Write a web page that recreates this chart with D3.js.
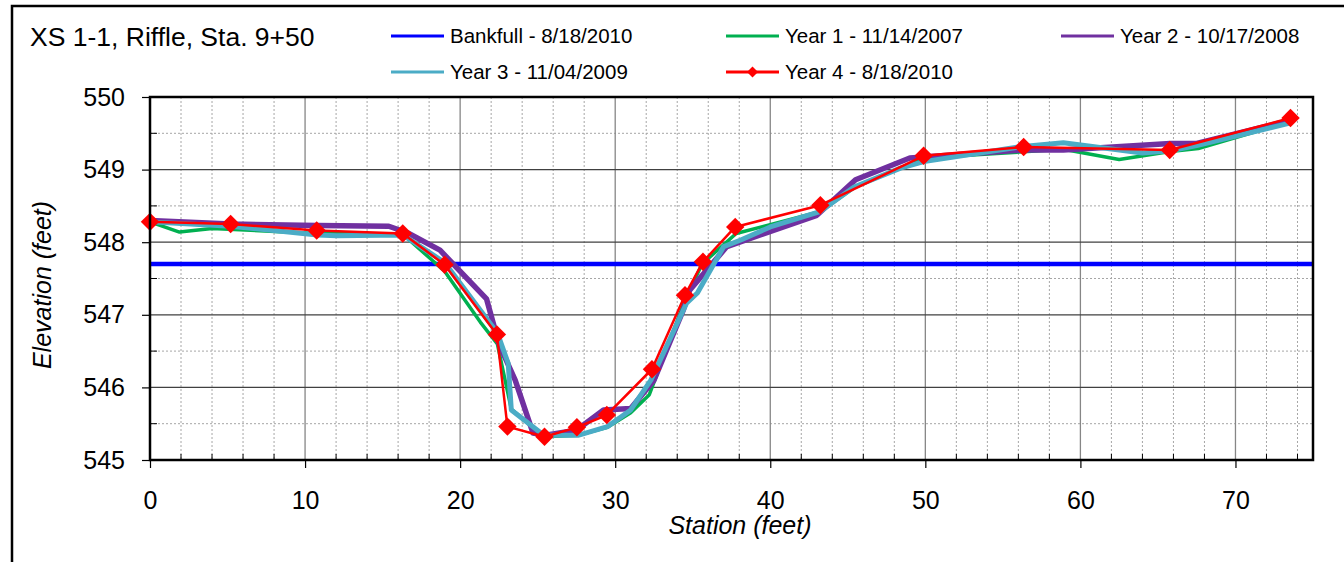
<!DOCTYPE html>
<html>
<meta charset="utf-8">
<head>
    <script src="https://d3js.org/d3.v7.min.js"></script>
    <style>
        body { margin: 0; background: #fff; }
        text { font-family: "Liberation Sans", Arial, sans-serif; fill: #000; }
    </style>
</head>
<body>
    <script>
        // tick labels
        var xTicks = [0, 10, 20, 30, 40, 50, 60, 70];
        var yTicks = [545, 546, 547, 548, 549, 550];

        // series names + colours (legend order)
        var seriesNames = ["Bankfull - 8/18/2010", "Year 1 - 11/14/2007", "Year 2 - 10/17/2008",
                           "Year 3 - 11/04/2009", "Year 4 - 8/18/2010"];
        var seriesColors = ["#0000ff", "#00b050", "#7030a0", "#4bacc6", "#ff0000"];

        // bankfull elevation
        var bankfullSta = [0, 75];
        var bankfullElev = [547.70, 547.70];

        // Year 1 - 11/14/2007
        var year1Sta  = [0, 1.9, 4.0, 10.8, 16.3, 19.0, 21.3, 22.4, 23.3, 25.4, 27.6, 29.5, 31.0, 32.2,
                         34.5, 35.6, 37.8, 43.2, 45.4, 49.9, 54.6, 58.9, 62.5, 65.8, 67.6, 73.5];
        var year1Elev = [548.28, 548.14, 548.19, 548.12, 548.11, 547.60, 546.90, 546.60, 545.70, 545.32,
                         545.34, 545.45, 545.65, 545.90, 547.20, 547.70, 548.12, 548.42, 548.75, 549.16,
                         549.22, 549.28, 549.14, 549.25, 549.29, 549.66];

        // Year 2 - 10/17/2008
        var year2Sta  = [0, 5.2, 10.8, 15.4, 16.6, 18.7, 21.7, 22.5, 23.55, 24.7, 25.5, 27.5, 29.25, 31.0,
                         32.5, 34.4, 34.8, 37.2, 43.0, 45.5, 49.0, 56.3, 58.9, 65.8, 67.5, 73.55];
        var year2Elev = [548.30, 548.25, 548.23, 548.22, 548.13, 547.89, 547.22, 546.60, 546.10, 545.37,
                         545.34, 545.41, 545.69, 545.71, 546.10, 547.07, 547.34, 547.94, 548.37, 548.86,
                         549.16, 549.27, 549.27, 549.36, 549.36, 549.68];

        // Year 3 - 11/04/2009
        var year3Sta  = [0, 5.2, 10.8, 12.05, 16.3, 19.0, 22.4, 23.1, 23.3, 25.4, 27.6, 29.5, 31.0, 32.3,
                         34.6, 35.3, 37.0, 38.1, 40.0, 43.2, 45.4, 48.4, 49.9, 56.3, 58.9, 64.0, 65.8,
                         67.5, 73.5];
        var year3Elev = [548.28, 548.22, 548.10, 548.09, 548.10, 547.72, 546.75, 546.33, 545.69, 545.34,
                         545.34, 545.46, 545.69, 546.10, 547.16, 547.30, 547.94, 548.03, 548.21, 548.42,
                         548.76, 549.02, 549.11, 549.32, 549.37, 549.23, 549.26, 549.33, 549.64];

        // Year 4 - 8/18/2010 (surveyed points, diamonds)
        var year4Sta  = [0, 5.2, 10.75, 16.3, 19.0, 22.37, 23.05, 25.44, 27.53, 29.46, 32.37, 34.5,
                         35.66, 37.74, 43.23, 49.89, 56.34, 65.76, 73.55];
        var year4Elev = [548.28, 548.25, 548.16, 548.12, 547.69, 546.73, 545.46, 545.32, 545.45, 545.62,
                         546.25, 547.27, 547.73, 548.21, 548.51, 549.19, 549.31, 549.27, 549.71];

        var width = 1344,
            height = 562;

        var svg = d3.select("body").append("svg")
            .attr("width", width)
            .attr("height", height);

        var x = d3.scaleLinear().domain([0, 75]).range([150, 1313]);
        var y = d3.scaleLinear().domain([545, 550]).range([460, 97]);

        // outer chart frame
        svg.append("rect")
            .attr("x", 12).attr("y", 6)
            .attr("width", 1400).attr("height", 600)
            .attr("fill", "#fff")
            .attr("stroke", "#000")
            .attr("stroke-width", 2.5);

        // title
        svg.append("text")
            .attr("x", 30).attr("y", 46)
            .style("font-size", "26.5px")
            .text("XS 1-1, Riffle, Sta. 9+50");

        var grid = svg.append("g");

        // minor grid (dotted)
        var minorX = d3.range(2, 76, 2).filter(function(d) { return d % 10 !== 0; });
        var minorY = d3.range(545.5, 550, 1);

        grid.selectAll(".mx").data(minorX).enter().append("line")
            .attr("x1", function(d) { return x(d); }).attr("x2", function(d) { return x(d); })
            .attr("y1", y(550)).attr("y2", y(545))
            .attr("stroke", "#a6a6a6").attr("stroke-width", 1)
            .attr("stroke-dasharray", "2,2");

        grid.selectAll(".my").data(minorY).enter().append("line")
            .attr("x1", x(0)).attr("x2", x(75))
            .attr("y1", function(d) { return y(d); }).attr("y2", function(d) { return y(d); })
            .attr("stroke", "#a6a6a6").attr("stroke-width", 1)
            .attr("stroke-dasharray", "2,2");

        // major grid
        grid.selectAll(".gx").data(xTicks.slice(1)).enter().append("line")
            .attr("x1", function(d) { return x(d); }).attr("x2", function(d) { return x(d); })
            .attr("y1", y(550)).attr("y2", y(545))
            .attr("stroke", "#868686").attr("stroke-width", 1.3);

        grid.selectAll(".gy").data(yTicks.slice(1, -1)).enter().append("line")
            .attr("x1", x(0)).attr("x2", x(75))
            .attr("y1", function(d) { return y(d); }).attr("y2", function(d) { return y(d); })
            .attr("stroke", "#404040").attr("stroke-width", 1.3);

        // minor ticks inside the axes
        grid.selectAll(".tx").data(minorX).enter().append("line")
            .attr("x1", function(d) { return x(d); }).attr("x2", function(d) { return x(d); })
            .attr("y1", y(545)).attr("y2", y(545) - 6)
            .attr("stroke", "#000").attr("stroke-width", 1);

        grid.selectAll(".ty").data(minorY).enter().append("line")
            .attr("x1", x(0)).attr("x2", x(0) + 7)
            .attr("y1", function(d) { return y(d); }).attr("y2", function(d) { return y(d); })
            .attr("stroke", "#000").attr("stroke-width", 1);

        // axes
        var xAxis = svg.append("g")
            .attr("transform", "translate(0," + y(545) + ")")
            .call(d3.axisBottom(x).tickValues(xTicks).tickSize(8).tickSizeOuter(0).tickPadding(23));
        var yAxis = svg.append("g")
            .attr("transform", "translate(" + x(0) + ",0)")
            .call(d3.axisLeft(y).tickValues(yTicks).tickFormat(d3.format("d")).tickSize(8).tickSizeOuter(0).tickPadding(17));

        [xAxis, yAxis].forEach(function(a) {
            a.select(".domain").remove();
            a.selectAll("text").style("font-size", "25px").style("font-family", "'Liberation Sans', Arial, sans-serif");
            a.selectAll(".tick line").attr("stroke", "#000").attr("stroke-width", 1.2);
        });

        // axis titles
        svg.append("text")
            .attr("x", 740).attr("y", 534)
            .attr("text-anchor", "middle")
            .style("font-size", "25px").style("font-style", "italic")
            .text("Station (feet)");

        svg.append("text")
            .attr("transform", "translate(51,285) rotate(-90)")
            .attr("text-anchor", "middle")
            .style("font-size", "25px").style("font-style", "italic")
            .text("Elevation (feet)");

        // series
        function zipSeries(sta, elev) {
            return sta.map(function(s, i) { return [s, elev[i]]; });
        }

        var line = d3.line()
            .x(function(d) { return x(d[0]); })
            .y(function(d) { return y(d[1]); });

        var series = [
            { data: zipSeries(bankfullSta, bankfullElev), color: seriesColors[0], w: 4.5 },
            { data: zipSeries(year1Sta, year1Elev), color: seriesColors[1], w: 3.5 },
            { data: zipSeries(year2Sta, year2Elev), color: seriesColors[2], w: 5.5 },
            { data: zipSeries(year3Sta, year3Elev), color: seriesColors[3], w: 5 },
            { data: zipSeries(year4Sta, year4Elev), color: seriesColors[4], w: 2.5 }
        ];

        var plot = svg.append("g");
        series.forEach(function(s) {
            plot.append("path")
                .datum(s.data)
                .attr("d", line)
                .attr("fill", "none")
                .attr("stroke", s.color)
                .attr("stroke-width", s.w)
                .attr("stroke-linejoin", "round");
        });

        var diamond = d3.symbol().type(d3.symbolSquare).size(170);
        plot.selectAll(".pt")
            .data(series[4].data)
            .enter().append("path")
            .attr("d", diamond)
            .attr("transform", function(d) { return "translate(" + x(d[0]) + "," + y(d[1]) + ") rotate(45)"; })
            .attr("fill", seriesColors[4]);

        // plot border
        svg.append("rect")
            .attr("x", x(0)).attr("y", y(550))
            .attr("width", x(75) - x(0)).attr("height", y(545) - y(550))
            .attr("fill", "none")
            .attr("stroke", "#000")
            .attr("stroke-width", 2.5);

        // legend
        var legend = svg.append("g");
        var legendItems = legend.selectAll("g")
            .data(seriesNames)
            .enter().append("g")
            .attr("transform", function(d, i) {
                return "translate(" + (391 + (i % 3) * 335) + "," + (36 + Math.floor(i / 3) * 36) + ")";
            });

        legendItems.append("line")
            .attr("x1", 0).attr("x2", 53)
            .attr("stroke", function(d, i) { return seriesColors[i]; })
            .attr("stroke-width", 3);

        legendItems.filter(function(d, i) { return i === 4; })
            .append("path")
            .attr("d", d3.symbol().type(d3.symbolSquare).size(60))
            .attr("transform", "translate(26.5,0) rotate(45)")
            .attr("fill", seriesColors[4]);

        legendItems.append("text")
            .attr("x", 59).attr("y", 7)
            .style("font-size", "20.5px")
            .text(function(d) { return d; });
    </script>
</body>
</html>
